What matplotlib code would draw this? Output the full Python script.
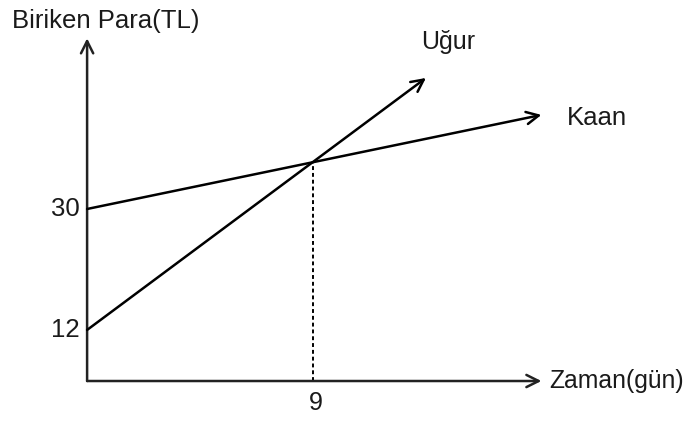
import matplotlib.pyplot as plt

plt.rcParams['font.family'] = ['Liberation Sans', 'DejaVu Sans']

# values (schematic, not to scale)
kaan_days = [0, 18.1]
kaan_money = [30, 44.0]
ugur_days = [0, 13.5]
ugur_money = [12, 49.5]
meet_day = 9
meet_money = 37.1
y_ticks = [12, 30]
x_ticks = [9]
x_end = 18.1      # x axis arrow tip
y_end = 55.4      # y axis arrow tip
y_base = 4.4      # where the x axis sits

fig = plt.figure(figsize=(6.89, 4.22), dpi=100)
ax = fig.add_axes([0, 0, 1, 1])
ax.set_xlim(-3.47, 23.98)
ax.set_ylim(-1.7, 61.1)
ax.axis('off')

arrow = dict(arrowstyle='->', lw=1.8, color='black', shrinkA=0, shrinkB=0,
             mutation_scale=22)
axis_arrow = dict(arrow, color='#222222')

# axes
ax.annotate('', xy=(0, y_end), xytext=(0, y_base), arrowprops=axis_arrow)
ax.annotate('', xy=(x_end, y_base), xytext=(0, y_base), arrowprops=axis_arrow)

# lines
ax.annotate('', xy=(kaan_days[1], kaan_money[1]), xytext=(kaan_days[0], kaan_money[0]),
            arrowprops=arrow)
ax.annotate('', xy=(ugur_days[1], ugur_money[1]), xytext=(ugur_days[0], ugur_money[0]),
            arrowprops=arrow)

# dashed guide at the meeting point
ax.plot([meet_day, meet_day], [y_base, meet_money], color='black', lw=1.4,
        linestyle=(0, (2, 1.5)))

# tick labels
for v in y_ticks:
    ax.text(-0.3, v, str(v), ha='right', va='center', fontsize=18.5, color='#1a1a1a')
for v in x_ticks:
    ax.text(v + 0.1, y_base - 1.5, str(v), ha='center', va='top', fontsize=18,
            color='#1a1a1a')

# texts
ax.text(-3.0, 58.0, 'Biriken Para(TL)', ha='left', va='center', fontsize=18.5,
        color='#1a1a1a')
ax.text(x_end + 0.3, y_base, 'Zaman(gün)', ha='left', va='center', fontsize=17.8,
        color='#1a1a1a')
ax.text(13.3, 54.9, 'Uğur', ha='left', va='center', fontsize=18, color='#1a1a1a')
ax.text(19.1, 43.6, 'Kaan', ha='left', va='center', fontsize=18.5, color='#1a1a1a')

fig.savefig('out.png', dpi=100)
